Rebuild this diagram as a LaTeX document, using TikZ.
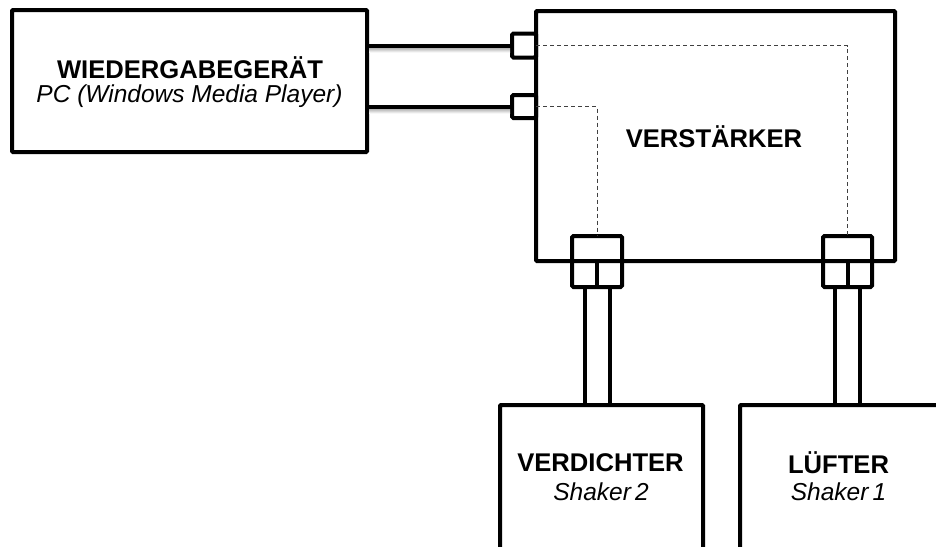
\documentclass[tikz,border=0pt]{standalone}
\usepackage{fontspec}
\setmainfont{Liberation Sans}
\tikzset{
  box/.style={draw=black, line width=4pt, rectangle, inner sep=0pt, outer sep=0pt, rounded corners=1pt},
  port/.style={draw=black, line width=4pt, rectangle, inner sep=0pt, outer sep=0pt, rounded corners=1.5pt},
  wire/.style={draw=black, line width=4pt},
  sig/.style={draw=black!75, line width=0.9pt, dash pattern=on 4pt off 3pt},
  title/.style={font=\bfseries\fontsize{25.6}{28}\selectfont, align=center, inner sep=0pt},
  sub/.style={font=\itshape\fontsize{24.5}{27}\selectfont, align=center, inner sep=0pt},
  shadowband/.style={top color=black!35, bottom color=white, draw=none}
}
\begin{document}
\begin{tikzpicture}[x=1pt,y=-1pt]
\useasboundingbox (0,0) rectangle (936,546);
\clip (0,0) rectangle (936,546);

% main boxes
\node[box, minimum width=355pt, minimum height=142pt] (src) at (189.5,81) {};
\node[box, minimum width=359pt, minimum height=250pt] (amp) at (715.5,136) {};
\node[box, minimum width=203pt, minimum height=146pt] (dev2) at (601.5,478) {};
\node[box, minimum width=200pt, minimum height=146pt] (dev1) at (840,478) {};

% texts
\node[title] (srct) at (190,67.5) {WIEDERGABEGERÄT};
\node[sub] (srcs) at (189.5,96) {PC (Windows Media Player)};
\node[title] (ampt) at (714,136.5) {VERSTÄRKER};
\node[title] (dev2t) at (600.5,462.5) {VERDICHTER};
\node[sub] (dev2s) at (601,491.5) {Shaker\,2};
\node[title] (dev1t) at (838.5,462.5) {LÜFTER};
\node[sub] (dev1s) at (838.5,491.5) {Shaker\,1};

% input ports
\node[port, minimum width=24pt, minimum height=24pt] (in1) at (524,45.5) {};
\node[port, minimum width=24pt, minimum height=23pt] (in2) at (524,106.5) {};

% output ports
\node[port, minimum width=50pt, minimum height=51pt] (out2) at (597,261.5) {};
\node[port, minimum width=49pt, minimum height=51pt] (out1) at (847.5,261.5) {};
\coordinate (out2m) at (597,261);
\coordinate (out1m) at (847.5,261);
\draw[wire] (out2m) -- (out2m |- out2.south);
\draw[wire] (out1m) -- (out1m |- out1.south);
\draw[wire] (out2.west |- out2m) -- (out2.east |- out2m);
\draw[wire] (out1.west |- out1m) -- (out1.east |- out1m);

% shadows under input cables
\fill[shadowband] ([xshift=2pt,yshift=-1.5pt]src.east |- in1) rectangle ([xshift=-2pt,yshift=-7pt]in1.west);
\fill[shadowband] ([xshift=2pt,yshift=-1.5pt]src.east |- in2) rectangle ([xshift=-2pt,yshift=-7pt]in2.west);

% input cables
\draw[wire] (src.east |- in1) -- (in1.west);
\draw[wire] (src.east |- in2) -- (in2.west);

% internal signal paths
\draw[sig] (in1.east) -- (out1.north |- in1.east) -- (out1.north);
\draw[sig] (in2.east) -- (out2.north |- in2.east) -- (out2.north);

% output cables
\draw[wire] ([xshift=-12.5pt]out2.south) -- ([xshift=-12.5pt]out2.south |- dev2.north);
\draw[wire] ([xshift=12.5pt]out2.south) -- ([xshift=12.5pt]out2.south |- dev2.north);
\draw[wire] ([xshift=-12.5pt]out1.south) -- ([xshift=-12.5pt]out1.south |- dev1.north);
\draw[wire] ([xshift=12.5pt]out1.south) -- ([xshift=12.5pt]out1.south |- dev1.north);
\end{tikzpicture}
\end{document}
